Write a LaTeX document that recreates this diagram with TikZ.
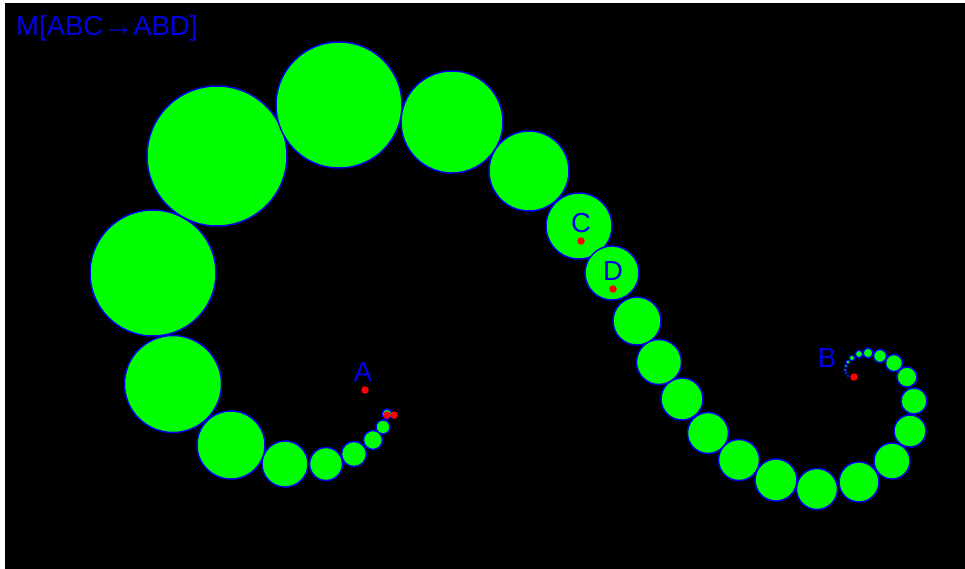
\documentclass[tikz,border=0pt]{standalone}
\usepackage{fontspec}
\setmainfont{Liberation Sans}
\definecolor{bgblack}{RGB}{0,0,0}
\definecolor{ballgreen}{RGB}{0,255,0}
\definecolor{rimblue}{RGB}{0,0,235}
\definecolor{txtblue}{RGB}{0,0,235}
\definecolor{dotred}{RGB}{255,0,0}
\tikzset{
  ball/.style={fill=ballgreen, draw=rimblue},
  reddot/.style={circle, fill=dotred, inner sep=0pt, minimum size=7.5pt},
  ptlabel/.style={text=txtblue, font=\fontsize{27.5}{27.5}\selectfont, inner sep=0pt},
}
\begin{document}
\begin{tikzpicture}[x=1pt,y=-1pt]
\useasboundingbox (0,0) rectangle (965,569);
\fill[white] (0,0) rectangle (965,569);
\fill[bgblack] (5,3) rectangle (965,569);
% chain of circles: x/y/r
\foreach \cx/\cy/\r [count=\i] in {
  387/414/5, 383/427/7, 373/440/9.5, 354/454/12.5, 326/464/16.5, 285/464/23,
  231/445/34, 173/384/48.5, 153/273/63, 217/156/70, 339/105/63, 452/122/51,
  529/171/40, 579/226/33, 612/273/27, 637/321/24, 659/362/22.5, 682/399/21,
  708/433/20.5, 739/460/20.5, 776/480/21, 817/489/20.5, 859/482/20, 892/461/18,
  910/431/16, 914/401/13, 907/377/10, 894/363/8.5, 880/356/6.5, 868/353/5,
  859/354/3.8, 852/358/2.7, 848/362/2, 846/366/1.7, 845/370/1.4, 846/373/1.2, 848/376/1}
{
  \path[ball, line width={min(1.5,0.4*\r)*1pt}] (\cx,\cy) circle[radius=\r];
  \coordinate (c\i) at (\cx,\cy);
}
% red points
\node[reddot] (pA) at (365,390) {};
\node[reddot] (pB) at (854,377) {};
\node[reddot] (pC) at (581,241) {};
\node[reddot] (pD) at (613,289) {};
\node[reddot] (pA1) at (387,415) {};
\node[reddot] (pA2) at (394,415) {};
% labels
\node[ptlabel] (lA) at (363,372) {A};
\node[ptlabel] (lB) at (827,358) {B};
\node[ptlabel] (lC) at (581,223) {C};
\node[ptlabel] (lD) at (613,271) {D};
\node[ptlabel, anchor=base west] (title) at (16,36) {M[ABC{\fontsize{30}{30}\selectfont →}ABD]};
\end{tikzpicture}
\end{document}
